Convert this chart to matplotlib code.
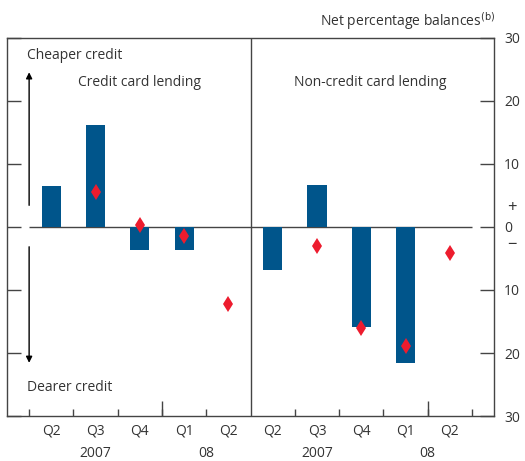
import numpy as np
import matplotlib.pyplot as plt
from matplotlib import transforms

plt.rcParams['font.family'] = ['Open Sans', 'DejaVu Sans']

# data (net percentage balances)
quarters = ['Q2', 'Q3', 'Q4', 'Q1', 'Q2']
years = ['2007', '08']
card_bars = [6.5, 16.2, -3.6, -3.6, np.nan]
card_diamonds = [np.nan, 5.6, 0.3, -1.4, -12.2]
noncard_bars = [-6.9, 6.7, -15.9, -21.6, np.nan]
noncard_diamonds = [np.nan, -3.0, -16.0, -18.9, -4.1]

BLUE = '#00558b'
RED = '#ed1c2e'
TXT = '#333333'
LINE = '#444444'

fig = plt.figure(figsize=(5.25, 4.61), dpi=100)
ax = fig.add_axes([0.0133, 0.0976, 0.928, 0.82])

xl = np.arange(1, 6)
xr = np.arange(6, 11)
ax.bar(xl, card_bars, width=0.43, color=BLUE, zorder=2)
ax.bar(xr, noncard_bars, width=0.43, color=BLUE, zorder=2)
ax.plot(xl, card_diamonds, 'd', color=RED, ms=8, mew=0, zorder=3)
ax.plot(xr, noncard_diamonds, 'd', color=RED, ms=8, mew=0, zorder=3)

ax.set_xlim(0, 11)
ax.set_ylim(-30, 30)
ax.axvline(5.5, color=LINE, lw=1)
ax.hlines(0, 0.5, 10.5, color=LINE, lw=1, zorder=1)

for s in ax.spines.values():
    s.set_color(LINE)
    s.set_linewidth(1)

# y ticks on both sides, labels on the right as absolute values
yt = [-30, -20, -10, 0, 10, 20, 30]
ax.set_yticks(yt)
ax.set_yticklabels([str(abs(v)) for v in yt], fontsize=10, color=TXT)
ax.tick_params(axis='y', left=True, right=True, labelleft=False, labelright=True,
               direction='in', length=10, width=1, color=LINE, pad=7)
ax.text(11.4, 3.0, '+', fontsize=12, color=TXT, ha='center', va='center', clip_on=False)
ax.text(11.4, -2.9, '\u2212', fontsize=12, color=TXT, ha='center', va='center', clip_on=False)

# x ticks
ax.set_xticks([])
ax.set_xticks([0.5, 1.5, 2.5, 3.5, 4.5, 6.5, 7.5, 8.5, 9.5, 10.5], minor=True)
ax.tick_params(axis='x', which='minor', direction='in', length=5, width=1, color=LINE)
ax.vlines([3.5, 9.5], -30, -27.6, color=LINE, lw=1)

trans = transforms.blended_transform_factory(ax.transData, fig.transFigure)
for x, q in zip(list(xl) + list(xr), quarters + quarters):
    ax.text(x, 0.064, q, transform=trans, fontsize=10, color=TXT, ha='center', va='center')
for x, yr in zip([2, 4.5, 7, 9.5], years + years):
    ax.text(x, 0.016, yr, transform=trans, fontsize=10, color=TXT, ha='center', va='center')

# direction arrows and labels
arr = dict(arrowstyle='-|>', color='black', lw=1, mutation_scale=9)
ax.annotate('', xy=(0.5, 25), xytext=(0.5, 3), arrowprops=arr)
ax.annotate('', xy=(0.5, -22), xytext=(0.5, -2.7), arrowprops=arr)
ax.text(0.45, 27.2, 'Cheaper credit', fontsize=10, color=TXT, ha='left', va='center')
ax.text(0.45, -25.4, 'Dearer credit', fontsize=10, color=TXT, ha='left', va='center')
ax.text(3.0, 23.0, 'Credit card lending', fontsize=10, color=TXT, ha='center', va='center')
ax.text(8.2, 23.0, 'Non-credit card lending', fontsize=10, color=TXT, ha='center', va='center')

fig.text(0.943, 0.955, 'Net percentage balances$^{\\mathrm{(b)}}$', fontsize=10, color=TXT,
         ha='right', va='center')

fig.savefig('out.png', dpi=100)
